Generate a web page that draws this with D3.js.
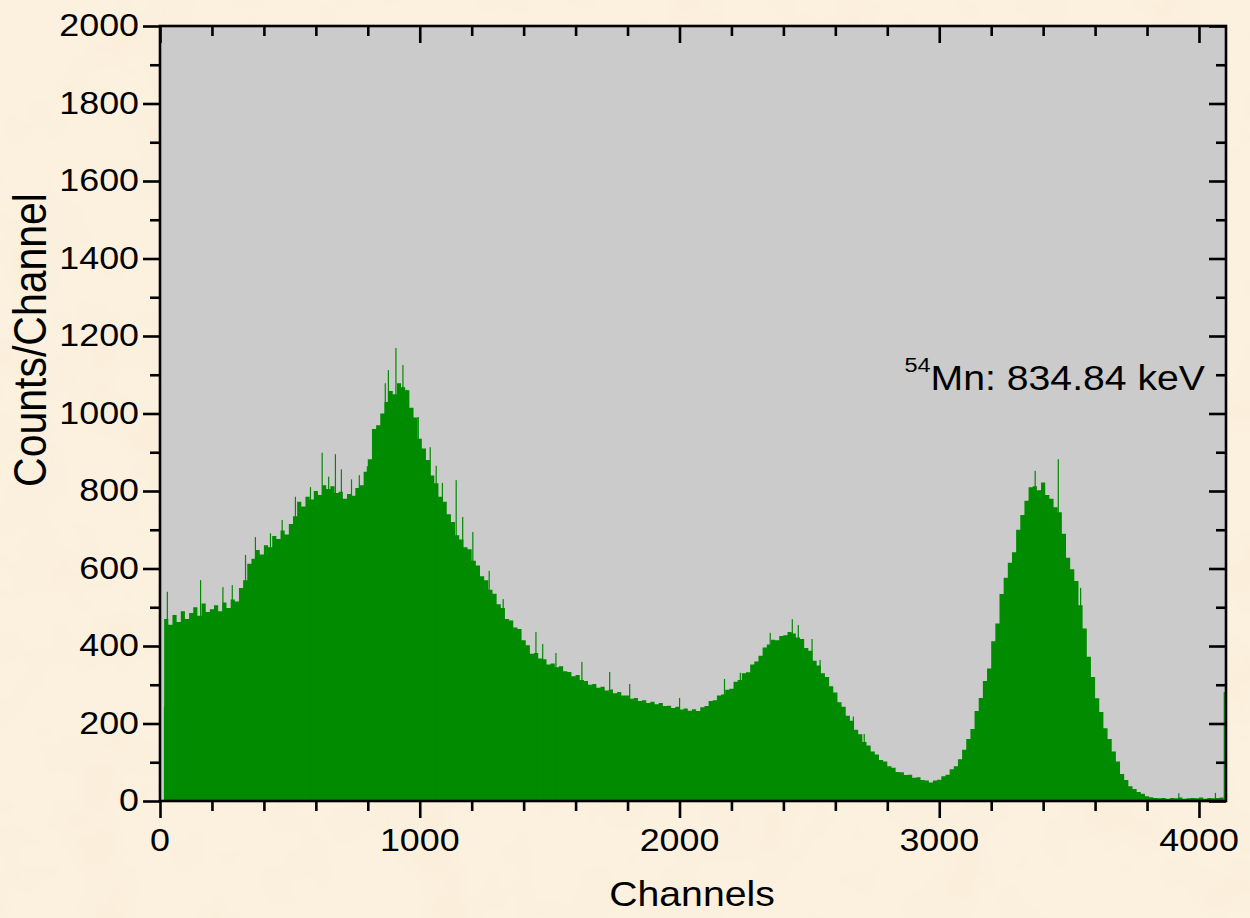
<!DOCTYPE html>
<html><head><meta charset="utf-8">
<script src="https://cdn.jsdelivr.net/npm/d3@7"></script>
<style>html,body{margin:0;padding:0;background:#fcf1df;} svg{display:block}</style>
</head><body>
<svg id="chart" width="1250" height="918"></svg>
<script>
// ---- data ----
const binWidth = 16; // channels per stored value
const counts = [
  0, 470, 455, 480, 462, 490, 470, 485, 500, 478, 510, 488, 495, 505, 490, 512,
  498, 520, 515, 550, 570, 612, 625, 648, 636, 660, 655, 684, 676, 698, 688, 715,
  735, 772, 760, 785, 778, 800, 790, 815, 805, 812, 795, 798, 780, 792, 788, 808,
  815, 850, 882, 960, 970, 1000, 1030, 1058, 1050, 1078, 1068, 1060, 1015, 990, 935, 910,
  880, 840, 820, 785, 772, 740, 720, 686, 675, 655, 650, 620, 608, 580, 570, 545,
  535, 508, 498, 470, 466, 448, 444, 415, 402, 380, 382, 368, 366, 352, 355, 345,
  348, 335, 333, 322, 325, 312, 310, 300, 302, 292, 295, 285, 288, 278, 281, 272,
  272, 264, 266, 258, 260, 253, 256, 250, 253, 245, 246, 240, 243, 236, 239, 233,
  237, 232, 242, 245, 258, 260, 272, 275, 287, 290, 308, 312, 330, 332, 352, 360,
  375, 396, 404, 416, 415, 426, 428, 436, 432, 422, 418, 395, 388, 362, 350, 330,
  320, 296, 280, 255, 243, 220, 207, 184, 172, 152, 143, 128, 120, 106, 102, 90,
  86, 75, 74, 67, 68, 60, 61, 54, 53, 48, 53, 55, 64, 68, 82, 90,
  108, 132, 160, 186, 232, 266, 310, 342, 412, 458, 534, 576, 615, 642, 700, 738,
  775, 810, 812, 802, 822, 790, 780, 758, 745, 690, 628, 598, 568, 505, 445, 372,
  320, 265, 230, 188, 160, 128, 102, 70, 54, 38, 31, 23, 19, 12, 10, 8,
  7, 8, 6, 8, 7, 9, 6, 7, 8, 7, 9, 6, 8, 7, 8, 9
];
// single-channel spikes [channel, counts]
const spikeChannels = [15, 26, 154, 240, 276, 327, 365, 423, 468, 519, 577, 622, 647, 673, 696, 735, 765, 796,
  865, 877, 906, 933, 948, 992, 1038, 1061, 1085, 1138, 1163, 1202, 1265, 1319, 1445, 1471, 1522, 1622,
  1729, 1806, 1998, 2171, 2232, 2347, 2432, 2455, 2508, 2539, 2667, 2709, 3367, 3456, 3542, 3920, 4061, 4095];
const spikeCounts = [243, 540, 570, 552, 557, 635, 681, 691, 725, 785, 810, 899, 837, 895, 856, 830, 841, 864,
  1078, 1112, 1169, 1125, 1061, 991, 913, 865, 821, 828, 733, 694, 594, 521, 436, 405, 382, 359,
  333, 302, 266, 315, 331, 434, 469, 454, 418, 364, 218, 173, 852, 882, 550, 20, 21, 281];
const xTicks = [0, 1000, 2000, 3000, 4000];
const xMinorTicks = d3.range(0, 4001, 200);
const yTicks = [0, 200, 400, 600, 800, 1000, 1200, 1400, 1600, 1800, 2000];
const yMinorTicks = d3.range(0, 2001, 100);
const xTitle = "Channels";
const yTitle = "Counts/Channel";
const noteSup = "54";
const noteText = "Mn: 834.84 keV";

// ---- layout ----
const W = 1250, H = 918;
const L = 160, R = 1226, T = 26, B = 801;
const stretch = 1.12;
const svg = d3.select("#chart");

const defs = svg.append("defs");
const f = defs.append("filter").attr("id", "paper").attr("x", 0).attr("y", 0).attr("width", 1).attr("height", 1);
f.append("feTurbulence").attr("type", "fractalNoise").attr("baseFrequency", "0.015").attr("numOctaves", 3).attr("seed", 4);
f.append("feColorMatrix").attr("type", "matrix")
  .attr("values", "0 0 0 0 0.90  0 0 0 0 0.78  0 0 0 0 0.58  0 0 0 0.40 -0.15");

svg.append("rect").attr("width", W).attr("height", H).attr("fill", "#fcf1df");
svg.append("rect").attr("width", W).attr("height", H).attr("filter", "url(#paper)");

const x = d3.scaleLinear().domain([0, 4104]).range([L, R]);
const y = d3.scaleLinear().domain([0, 2000]).range([B, T]);

svg.append("rect").attr("x", L).attr("y", T).attr("width", R - L).attr("height", B - T).attr("fill", "#cbcbcb");

// histogram as a step area
const pts = counts.map((c, i) => [i * binWidth, c]);
pts.push([counts.length * binWidth - 1, counts[counts.length - 1]]);
const area = d3.area().curve(d3.curveStepAfter)
  .x(d => x(d[0])).y0(y(0)).y1(d => y(d[1]));
svg.append("path").datum(pts).attr("d", area).attr("fill", "#008b00");

svg.append("g").selectAll("rect").data(spikeChannels.map((c, i) => [c, spikeCounts[i]]))
  .join("rect")
  .attr("x", d => x(d[0]))
  .attr("width", d => Math.max(1.2, x(d[0] + 1) - x(d[0])))
  .attr("y", d => y(d[1]))
  .attr("height", d => y(0) - y(d[1]))
  .attr("fill", "#008b00");

// ---- axes ----
function styleAxis(g) {
  g.select(".domain").remove();
  g.selectAll("line").attr("stroke", "#000").attr("stroke-width", 2.6);
  g.selectAll("text").remove();
}
const xMin = xMinorTicks.filter(v => !xTicks.includes(v));
const yMin = yMinorTicks.filter(v => !yTicks.includes(v));

svg.append("g").attr("transform", `translate(0,${B})`).call(d3.axisBottom(x).tickValues(xTicks).tickSize(17)).call(styleAxis);
svg.append("g").attr("transform", `translate(0,${B})`).call(d3.axisBottom(x).tickValues(xMin).tickSize(10)).call(styleAxis);
svg.append("g").attr("transform", `translate(0,${T})`).call(d3.axisTop(x).tickValues(xTicks).tickSize(-17)).call(styleAxis);
svg.append("g").attr("transform", `translate(0,${T})`).call(d3.axisTop(x).tickValues(xMin).tickSize(-10)).call(styleAxis);
svg.append("g").attr("transform", `translate(${L},0)`).call(d3.axisLeft(y).tickValues(yTicks).tickSize(17)).call(styleAxis);
svg.append("g").attr("transform", `translate(${L},0)`).call(d3.axisLeft(y).tickValues(yMin).tickSize(10)).call(styleAxis);
svg.append("g").attr("transform", `translate(${R},0)`).call(d3.axisRight(y).tickValues(yTicks).tickSize(-17)).call(styleAxis);
svg.append("g").attr("transform", `translate(${R},0)`).call(d3.axisRight(y).tickValues(yMin).tickSize(-10)).call(styleAxis);

svg.append("rect").attr("x", L).attr("y", T).attr("width", R - L).attr("height", B - T)
  .attr("fill", "none").attr("stroke", "#000").attr("stroke-width", 2.6);

const font = "'Liberation Sans', Arial, Helvetica, sans-serif";
svg.append("g").selectAll("text").data(xTicks).join("text")
  .attr("transform", d => `translate(${x(d)},851) scale(${stretch},1)`)
  .attr("text-anchor", "middle").attr("font-family", font).attr("font-size", 32).attr("fill", "#000")
  .text(d => d);
svg.append("g").selectAll("text").data(yTicks).join("text")
  .attr("transform", d => `translate(139,${y(d) + 10}) scale(${stretch},1)`)
  .attr("text-anchor", "end").attr("font-family", font).attr("font-size", 32).attr("fill", "#000")
  .text(d => d);

svg.append("text").attr("transform", `translate(46,340) rotate(-90) scale(1,${stretch})`)
  .attr("text-anchor", "middle").attr("font-family", font).attr("font-size", 41).attr("fill", "#000")
  .text(yTitle);
svg.append("text").attr("transform", `translate(692,906) scale(${stretch},1)`)
  .attr("text-anchor", "middle").attr("font-family", font).attr("font-size", 35).attr("fill", "#000")
  .text(xTitle);

const note = svg.append("text").attr("transform", `translate(1205,390) scale(${stretch},1)`)
  .attr("text-anchor", "end").attr("font-family", font).attr("fill", "#000");
note.append("tspan").attr("font-size", 21).attr("dy", -18).text(noteSup);
note.append("tspan").attr("font-size", 35).attr("dy", 18).text(noteText);
</script>
</body></html>
